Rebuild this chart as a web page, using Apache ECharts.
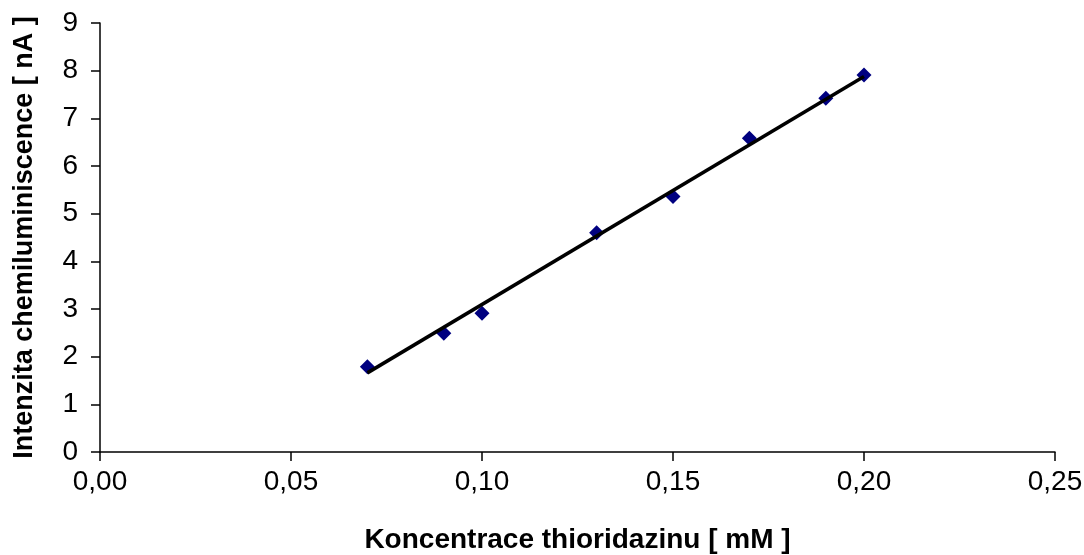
<!DOCTYPE html>
<html>
<head>
<meta charset="utf-8">
<script src="https://cdn.jsdelivr.net/npm/echarts@6/dist/echarts.min.js"></script>
<style>
  html, body { margin: 0; padding: 0; background: #fff; }
  #chart { width: 1084px; height: 555px; }
</style>
</head>
<body>
<div id="chart"></div>
<script>
// measured points (concentration in mM, intensity in nA)
const concentrations = [0.07, 0.09, 0.10, 0.13, 0.15, 0.17, 0.19, 0.20];
const intensities = [1.79, 2.49, 2.91, 4.60, 5.36, 6.58, 7.42, 7.91];

// linear trendline ends
const trendX = [0.07, 0.20];
const trendY = [1.66, 7.88];

const xTicks = { min: 0, max: 0.25, step: 0.05 };
const yTicks = { min: 0, max: 9, step: 1 };

const chart = echarts.init(document.getElementById('chart'));
const font = 'Liberation Sans, Arial, sans-serif';

const axisCommon = {
    splitLine: { show: false },
    axisLine: { show: true, onZero: false, lineStyle: { color: '#000', width: 1.5 } },
    axisTick: { show: true, inside: false, length: 9, lineStyle: { color: '#000', width: 1.5 } },
};

chart.setOption({
    animation: false,
    grid: {
        left: 100, right: 29, top: 23, bottom: 103,
        containLabel: false,
        outerBoundsMode: 'none',
    },
    xAxis: {
        ...axisCommon,
        type: 'value',
        min: xTicks.min,
        max: xTicks.max,
        interval: xTicks.step,
        name: 'Koncentrace thioridazinu [ mM ]',
        nameLocation: 'middle',
        nameGap: 74,
        nameTextStyle: { fontFamily: font, fontSize: 28, fontWeight: 'bold', color: '#000' },
        axisLabel: {
            margin: 16,
            fontFamily: font,
            fontSize: 28,
            color: '#000',
            formatter: v => v.toFixed(2).replace('.', ','),
        },
    },
    yAxis: {
        ...axisCommon,
        type: 'value',
        min: yTicks.min,
        max: yTicks.max,
        interval: yTicks.step,
        name: 'Intenzita chemiluminiscence [ nA ]',
        nameLocation: 'middle',
        nameGap: 62,
        nameRotate: 90,
        nameTextStyle: { fontFamily: font, fontSize: 27, fontWeight: 'bold', color: '#000' },
        axisLabel: { margin: 22, fontFamily: font, fontSize: 28, color: '#000' },
    },
    series: [
        {
            type: 'line',
            data: trendX.map((x, i) => [x, trendY[i]]),
            symbol: 'none',
            lineStyle: { color: '#000', width: 3.5 },
            z: 2,
        },
        {
            type: 'scatter',
            data: concentrations.map((x, i) => [x, intensities[i]]),
            symbol: 'diamond',
            symbolSize: [15, 15],
            itemStyle: { color: '#000080', opacity: 1 },
            z: 1,
        },
    ],
});
</script>
</body>
</html>
